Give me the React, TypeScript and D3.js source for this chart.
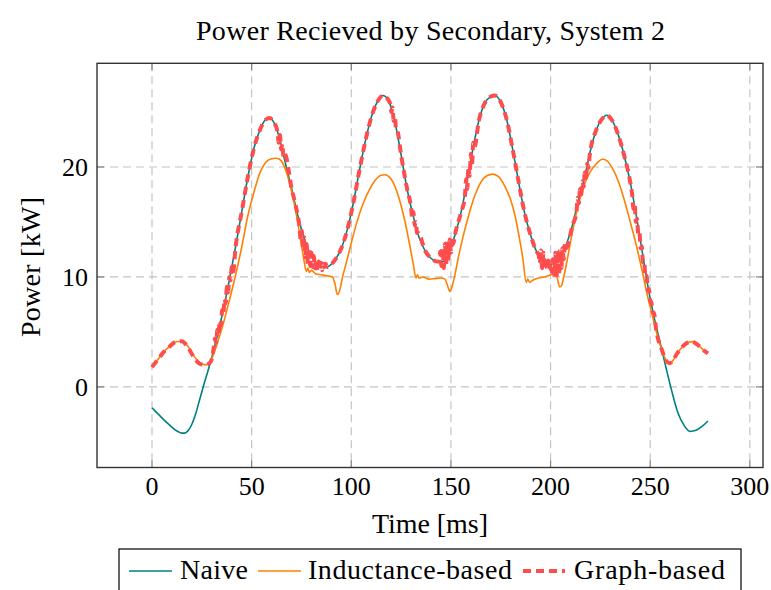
import React from "react";
import * as d3 from "d3";

// ---- data ----
const naiveT = [0, 3, 6, 9, 12, 15, 16.5, 18, 20, 22, 24, 26, 28, 30, 33, 36, 39, 42, 45, 48, 51, 54, 57, 59, 61, 64, 67, 70, 73, 76, 79, 82, 85, 87, 89, 92, 95, 98, 101, 104, 107, 110, 113, 116, 119, 122, 125, 128, 131, 134, 137, 140, 143, 146, 149, 152, 155, 158, 161, 164, 167, 170, 172, 175, 178, 181, 184, 187, 190, 193, 196, 199, 202, 205, 208, 211, 214, 217, 220, 223, 226, 228, 231, 234, 237, 240, 243, 246, 249, 252, 255, 258, 261, 264, 267, 270, 273, 276, 279];
const naiveV = [-1.9, -2.45, -3.0, -3.5, -3.95, -4.2, -4.2, -4.0, -3.4, -2.4, -1.1, 0.2, 1.4, 2.7, 4.8, 7.2, 9.9, 12.8, 15.9, 19.0, 21.6, 23.3, 24.3, 24.45, 24.1, 22.6, 20.3, 18.1, 15.7, 13.7, 12.2, 11.3, 10.9, 10.85, 11.0, 11.6, 12.6, 14.3, 16.7, 19.6, 22.3, 24.5, 25.9, 26.5, 25.9, 24.0, 21.1, 18.0, 15.6, 13.6, 12.4, 11.7, 11.4, 11.4, 12.2, 13.8, 15.8, 18.6, 21.6, 24.2, 25.8, 26.4, 26.5, 25.9, 24.3, 21.6, 18.6, 15.8, 13.8, 12.3, 11.5, 11.1, 11.3, 11.8, 13.0, 14.7, 17.0, 19.0, 21.5, 23.4, 24.4, 24.7, 24.2, 22.9, 21.0, 18.6, 15.6, 12.3, 9.0, 6.3, 4.0, 1.7, -0.5, -2.4, -3.5, -4.05, -3.95, -3.6, -3.1];

const inductT = [0, 3, 6, 9, 12, 15, 18, 21, 24, 27, 30, 33, 36, 39, 42, 45, 48, 51, 54, 57, 60, 62, 64, 66, 68, 70, 72, 74, 76, 77.5, 78.2, 79, 80, 82, 85, 88, 90.5, 91.8, 93, 94.2, 95.5, 97.5, 100, 103, 106, 109, 112, 115, 117, 119, 121, 123, 125, 127, 129, 131, 132.5, 133.2, 134, 136, 139, 142, 145, 147, 148.3, 149.5, 150.7, 152, 154, 156, 158, 160, 162, 165, 168, 171, 174, 176, 178, 180, 182, 184, 186, 187.8, 188.5, 189.5, 191, 194, 197, 200, 202.5, 203.5, 204.5, 205.5, 206.5, 208, 210, 212, 214, 217, 220, 223, 226, 228, 231, 234, 237, 240, 243, 246, 249, 252, 254, 256, 258, 259.5, 261, 263, 265, 268, 271, 274, 277, 279];
const inductV = [1.8, 2.5, 3.2, 3.7, 4.1, 4.15, 3.7, 2.8, 2.2, 2.0, 2.6, 4.1, 5.9, 8.0, 10.2, 12.7, 15.5, 17.6, 19.4, 20.4, 20.75, 20.8, 20.7, 20.2, 19.2, 17.8, 16.1, 14.0, 11.8, 10.5, 10.8, 10.4, 10.6, 10.3, 10.2, 10.1, 10.0, 9.4, 8.4, 8.8, 9.9, 11.3, 13.1, 15.1, 16.7, 17.9, 18.8, 19.25, 19.3, 19.1, 18.6, 17.7, 16.5, 15.0, 13.2, 11.3, 9.9, 10.2, 9.9, 10.0, 9.8, 9.85, 9.9, 9.8, 9.2, 8.7, 9.2, 10.2, 12.0, 13.6, 15.0, 16.3, 17.4, 18.6, 19.2, 19.35, 19.1, 18.6, 17.9, 17.0, 15.7, 13.9, 11.8, 9.5, 9.8, 9.5, 9.7, 9.9, 10.0, 10.2, 10.4, 9.8, 9.1, 9.2, 9.9, 11.2, 13.2, 15.0, 16.6, 18.4, 19.6, 20.3, 20.7, 20.6, 19.9, 18.7, 17.0, 15.0, 12.9, 10.5, 8.0, 5.8, 4.4, 3.3, 2.4, 2.15, 2.3, 2.9, 3.4, 3.95, 4.12, 3.8, 3.3, 3.05];

const graphStartT = [0, 3, 6, 9, 12, 15, 18, 21, 24, 27, 29.5];
const graphStartV = [1.8, 2.5, 3.2, 3.7, 4.1, 4.15, 3.6, 2.7, 2.1, 2.0, 2.3];
const graphEndT = [253, 256, 258, 259.5, 261, 263, 265, 268, 271, 274, 277, 279];
const graphEndV = [5.2, 3.3, 2.4, 2.15, 2.3, 2.9, 3.4, 3.95, 4.12, 3.8, 3.3, 3.05];

// jittery stretches of the graph-based trace
const noiseRise1 = [[31, 3.6], [31.6, 4.4], [32.2, 4.0], [32.8, 5.2], [33.4, 4.8], [34, 6.0], [34.6, 5.6], [35.2, 7.0], [35.8, 6.6], [36.4, 8.0], [37, 7.6], [37.6, 9.1], [38.2, 8.6], [38.8, 10.0], [39.4, 9.7], [40, 10.9], [40.6, 10.4]];
const noiseFall1 = [[63, 23.2], [63.6, 22.2], [64.2, 22.9], [64.8, 21.6], [65.4, 22.1], [66, 20.9], [66.6, 21.2]];
const noiseValley1 = [[74, 14.6], [74.6, 13.4], [75.2, 14.2], [75.8, 12.6], [76.4, 13.6], [77, 11.8], [77.6, 13.0], [78.2, 11.2], [78.8, 12.6], [79.4, 11.0], [80, 12.2], [80.6, 10.9], [81.2, 11.9], [81.8, 10.8], [82.4, 11.6], [83, 10.6], [83.6, 11.4], [84.2, 10.7], [84.8, 11.3], [85.4, 10.6], [86, 11.2], [86.6, 10.8], [87.2, 11.2], [87.8, 10.9]];
const noiseFall2 = [[119.5, 25.8], [120.1, 25.0], [120.7, 25.4], [121.3, 24.2], [121.9, 24.5], [122.5, 23.4], [123.1, 23.3]];
const noiseFall2b = [[130, 16.3], [130.6, 15.3], [131.2, 15.9], [131.8, 14.7], [132.4, 15.0], [133, 14.0], [133.6, 14.0]];
const noiseValley2 = [[144, 11.4], [144.6, 12.3], [145.2, 11.0], [145.8, 12.6], [146.4, 10.8], [147, 13.0], [147.6, 11.0], [148.2, 13.2], [148.8, 11.6], [149.4, 13.4], [150, 12.2], [150.6, 13.6], [151.2, 13.0]];
const noiseRise3 = [[157, 17.3], [157.6, 18.9], [158.2, 18.0], [158.8, 20.0], [159.4, 19.2], [160, 21.2], [160.6, 20.3], [161.2, 22.2], [161.8, 21.8]];
const noiseValley3 = [[194, 12.0], [194.6, 11.2], [195.2, 12.4], [195.8, 10.8], [196.4, 12.2], [197, 10.7], [197.6, 11.8], [198.2, 10.8], [198.8, 11.5], [199.4, 10.6], [200, 11.3], [200.6, 10.5], [201.2, 11.6], [201.8, 10.2], [202.4, 12.2], [203, 10.0], [203.6, 12.4], [204.2, 10.2], [204.8, 12.4], [205.4, 10.8], [206, 12.6], [206.6, 11.6], [207.2, 13.0], [207.8, 12.6]];
const noiseRise4 = [[213, 15.9], [213.6, 17.2], [214.2, 16.7], [214.8, 18.0], [215.4, 17.5], [216, 18.7], [216.6, 18.2], [217.2, 19.5], [217.8, 19.0], [218.4, 20.3], [219, 19.9], [219.6, 21.0]];
const noiseFall4 = [[241, 17.4], [241.6, 16.2], [242.2, 16.6], [242.8, 15.0], [243.4, 15.3], [244, 13.9], [244.6, 14.1], [245.2, 12.6], [245.8, 12.8], [246.4, 11.3], [247, 11.4], [247.6, 10.0], [248.2, 10.1], [248.8, 8.8], [249.4, 8.9], [250, 7.8], [250.6, 7.7], [251.2, 6.8], [251.8, 6.8]];

const xTicks = [0, 50, 100, 150, 200, 250, 300];
const yTicks = [0, 10, 20];

const TITLE = "Power Recieved by Secondary, System 2";
const XLABEL = "Time [ms]";
const YLABEL = "Power [kW]";
const SERIES_NAMES = ["Naive", "Inductance-based", "Graph-based"];

const COLORS = { naive: "#008080", induct: "#ff8000", graph: "#ff4d4d" };
const FONT = "'Liberation Serif', 'Times New Roman', serif";

type P = [number, number];

function zip(t: number[], v: number[]): P[] {
  return t.map((tt, i) => [tt, v[i]] as P);
}

export default function App() {
  const left = 97, right = 763, top = 63.3, bottom = 467.5;
  const x = d3.scaleLinear().domain([-27.6, 306.6]).range([left, right]);
  const y = d3.scaleLinear().domain([-7.33, 29.43]).range([bottom, top]);

  const naive = zip(naiveT, naiveV);
  const induct = zip(inductT, inductV);

  const noiseSegs = [noiseRise1, noiseFall1, noiseValley1, noiseFall2, noiseFall2b, noiseValley2, noiseRise3, noiseValley3, noiseRise4, noiseFall4] as P[][];
  const inNoise = (t: number) => noiseSegs.some((s) => t >= s[0][0] - 0.6 && t <= s[s.length - 1][0] + 0.6);
  const graph: P[] = [
    ...zip(graphStartT, graphStartV),
    ...naive.filter((p) => p[0] > 30 && p[0] < 252.5 && !inNoise(p[0])),
    ...(noiseSegs.flat() as P[]),
    ...zip(graphEndT, graphEndV),
  ].sort((a, b) => a[0] - b[0]);

  const line = d3
    .line<P>()
    .x((d) => x(d[0]))
    .y((d) => y(d[1]))
    .curve(d3.curveMonotoneX);

  const gridColor = "#c4c4c4";
  const tickColor = "#808080";

  return (
    <div style={{ position: "absolute", left: 0, top: 0 }}>
      <svg width={771} height={590} style={{ display: "block", background: "#fff" }}>
        <text x={430.5} y={40} textAnchor="middle" fontFamily={FONT} fontSize={28} textLength={469} fill="#000">
          {TITLE}
        </text>

        {/* grid */}
        {xTicks.map((t) => (
          <line key={"gx" + t} x1={x(t)} x2={x(t)} y1={top} y2={bottom} stroke={gridColor} strokeWidth={1.2} strokeDasharray="8 5" />
        ))}
        {yTicks.map((t) => (
          <line key={"gy" + t} x1={left} x2={right} y1={y(t)} y2={y(t)} stroke={gridColor} strokeWidth={1.2} strokeDasharray="8 5" />
        ))}
        {/* tick marks */}
        {xTicks.map((t) => (
          <g key={"tx" + t}>
            <line x1={x(t)} x2={x(t)} y1={bottom} y2={bottom - 7} stroke={tickColor} strokeWidth={1.2} />
            <line x1={x(t)} x2={x(t)} y1={top} y2={top + 7} stroke={tickColor} strokeWidth={1.2} />
          </g>
        ))}
        {yTicks.map((t) => (
          <g key={"ty" + t}>
            <line x1={left} x2={left + 7} y1={y(t)} y2={y(t)} stroke={tickColor} strokeWidth={1.2} />
            <line x1={right} x2={right - 7} y1={y(t)} y2={y(t)} stroke={tickColor} strokeWidth={1.2} />
          </g>
        ))}

        {/* series */}
        <path d={line(naive) || ""} fill="none" stroke={COLORS.naive} strokeWidth={1.6} />
        <path d={line(induct) || ""} fill="none" stroke={COLORS.induct} strokeWidth={1.6} />
        <path d={line(graph) || ""} fill="none" stroke={COLORS.graph} strokeWidth={4} strokeDasharray="8 5" />

        {/* frame */}
        <rect x={left} y={top} width={right - left} height={bottom - top} fill="none" stroke="#333" strokeWidth={1.4} />

        {/* tick labels */}
        {xTicks.map((t) => (
          <text key={"lx" + t} x={x(t)} y={495} textAnchor="middle" fontFamily={FONT} fontSize={26} fill="#000">
            {t}
          </text>
        ))}
        {yTicks.map((t) => (
          <text key={"ly" + t} x={88} y={y(t) + 9} textAnchor="end" fontFamily={FONT} fontSize={26} fill="#000">
            {t}
          </text>
        ))}

        <text x={430} y={533} textAnchor="middle" fontFamily={FONT} fontSize={28} textLength={116} fill="#000">
          {XLABEL}
        </text>
        <text transform="translate(40,267) rotate(-90)" textAnchor="middle" fontFamily={FONT} fontSize={28} textLength={140} fill="#000">
          {YLABEL}
        </text>

        {/* legend */}
        <rect x={119} y={549} width={622} height={60} fill="#fff" stroke="#000" strokeWidth={1.2} />
        <line x1={129} x2={172} y1={571} y2={571} stroke={COLORS.naive} strokeWidth={1.6} />
        <text x={180} y={579} fontFamily={FONT} fontSize={28} textLength={68} fill="#000">{SERIES_NAMES[0]}</text>
        <line x1={258} x2={301} y1={571} y2={571} stroke={COLORS.induct} strokeWidth={1.6} />
        <text x={308} y={579} fontFamily={FONT} fontSize={28} textLength={204} fill="#000">{SERIES_NAMES[1]}</text>
        <line x1={523} x2={565} y1={571} y2={571} stroke={COLORS.graph} strokeWidth={4} strokeDasharray="8 5" />
        <text x={574} y={579} fontFamily={FONT} fontSize={28} textLength={151} fill="#000">{SERIES_NAMES[2]}</text>
      </svg>
    </div>
  );
}
